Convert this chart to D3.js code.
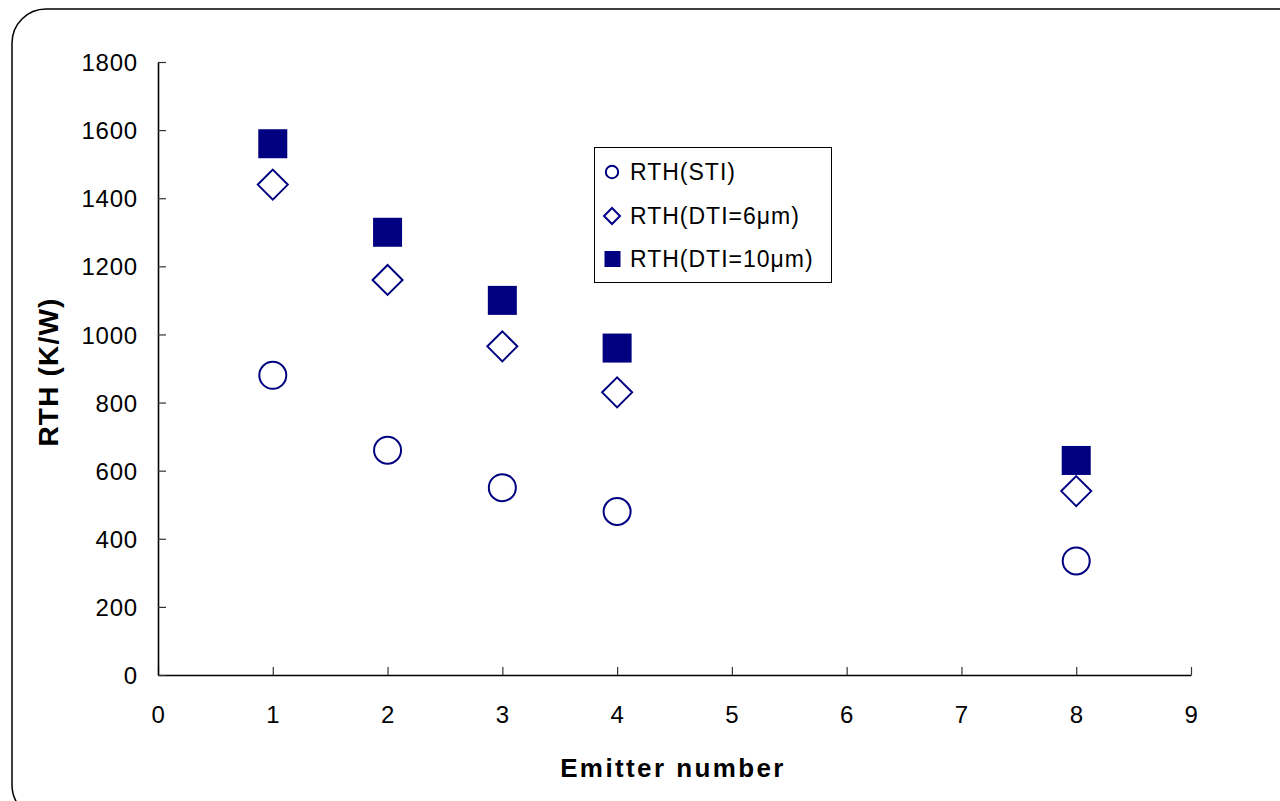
<!DOCTYPE html>
<html>
<head>
<meta charset="utf-8">
<script src="https://cdn.jsdelivr.net/npm/d3@7"></script>
<style>
  html, body { margin: 0; padding: 0; background: #fff; }
  svg { display: block; }
  text { font-family: "Liberation Sans", Arial, sans-serif; }
</style>
</head>
<body>
<svg id="chart" width="1280" height="801"></svg>
<script>
// ---- data ----
const emitters = [1, 2, 3, 4, 8];
const rthSTI = [880, 660, 550, 480, 335];
const rthDTI6 = [1440, 1160, 965, 830, 540];
const rthDTI10 = [1560, 1300, 1100, 960, 630];
const seriesNames = ["RTH(STI)", "RTH(DTI=6\u03bcm)", "RTH(DTI=10\u03bcm)"];
const xTicks = [0, 1, 2, 3, 4, 5, 6, 7, 8, 9];
const yTicks = [0, 200, 400, 600, 800, 1000, 1200, 1400, 1600, 1800];
const xTitle = "Emitter number";
const yTitle = "RTH (K/W)";

const navy = "#000080";
const svg = d3.select("#chart");

// rounded frame
svg.append("rect")
  .attr("x", 12).attr("y", 9).attr("width", 1310).attr("height", 810)
  .attr("rx", 34).attr("ry", 34)
  .attr("fill", "#fff").attr("stroke", "#000").attr("stroke-width", 1.5);

const x = d3.scaleLinear().domain([0, 9]).range([158, 1191]);
const y = d3.scaleLinear().domain([0, 1800]).range([675, 62]);

// axes
const xAxis = svg.append("g").attr("transform", `translate(0,${y(0)})`)
  .call(d3.axisBottom(x).tickValues(xTicks).tickFormat(d3.format("d"))
    .tickSizeInner(-8).tickSizeOuter(0).tickPadding(31));
const yAxis = svg.append("g").attr("transform", `translate(${x(0)},0)`)
  .call(d3.axisLeft(y).tickValues(yTicks).tickFormat(d3.format("d"))
    .tickSizeInner(-8).tickSizeOuter(0).tickPadding(20));

[xAxis, yAxis].forEach(g => {
  g.select(".domain").attr("stroke", "#000").attr("stroke-width", 1.6);
  g.selectAll(".tick line").attr("stroke", "#333").attr("stroke-width", 1.2);
  g.selectAll(".tick text")
    .attr("fill", "#000")
    .style("font-size", "24px")
    .style("letter-spacing", "0.8px")
    .style("font-family", "'Liberation Sans', Arial, sans-serif");
});
yAxis.selectAll(".tick text").attr("dy", "0.36em");

// axis titles
svg.append("text")
  .attr("x", 673).attr("y", 777)
  .attr("text-anchor", "middle")
  .style("font-size", "26px").style("font-weight", "bold")
  .style("letter-spacing", "2.4px")
  .text(xTitle);

svg.append("text")
  .attr("transform", "translate(58,372) rotate(-90)")
  .attr("text-anchor", "middle")
  .style("font-size", "28px").style("font-weight", "bold")
  .style("letter-spacing", "1.2px")
  .text(yTitle);

// markers
const pts = (vals) => emitters.map((e, i) => ({ e, v: vals[i] }));
const plot = svg.append("g");

plot.selectAll("circle.sti").data(pts(rthSTI)).join("circle")
  .attr("class", "sti")
  .attr("cx", d => x(d.e)).attr("cy", d => y(d.v)).attr("r", 13.5)
  .attr("fill", "#fff").attr("stroke", navy).attr("stroke-width", 2);

const sq = 29;
plot.selectAll("rect.dti10").data(pts(rthDTI10)).join("rect")
  .attr("class", "dti10")
  .attr("x", d => x(d.e) - sq / 2).attr("y", d => y(d.v) - sq / 2)
  .attr("width", sq).attr("height", sq)
  .attr("fill", navy);

const dh = 15;
plot.selectAll("path.dti6").data(pts(rthDTI6)).join("path")
  .attr("class", "dti6")
  .attr("d", d => {
    const cx = x(d.e), cy = y(d.v);
    return `M${cx},${cy - dh}L${cx + dh},${cy}L${cx},${cy + dh}L${cx - dh},${cy}Z`;
  })
  .attr("fill", "#fff").attr("stroke", navy).attr("stroke-width", 2);

// legend
const lg = svg.append("g");
lg.append("rect")
  .attr("x", 594.5).attr("y", 147.5).attr("width", 237).attr("height", 135)
  .attr("fill", "#fff").attr("stroke", "#000").attr("stroke-width", 1);

const rows = [180, 224, 267];
lg.append("circle").attr("cx", 612).attr("cy", rows[0] - 8)
  .attr("r", 6.2).attr("fill", "#fff").attr("stroke", navy).attr("stroke-width", 2);
lg.append("path")
  .attr("d", `M612,${rows[1] - 16}L620,${rows[1] - 8}L612,${rows[1]}L604,${rows[1] - 8}Z`)
  .attr("fill", "#fff").attr("stroke", navy).attr("stroke-width", 2);
lg.append("rect").attr("x", 604.5).attr("y", rows[2] - 16).attr("width", 16).attr("height", 16)
  .attr("fill", navy);

lg.selectAll("text.lt").data(seriesNames).join("text")
  .attr("class", "lt")
  .attr("x", 630).attr("y", (d, i) => rows[i])
  .style("font-size", "23px").style("letter-spacing", "1px")
  .text(d => d);
</script>
</body>
</html>
